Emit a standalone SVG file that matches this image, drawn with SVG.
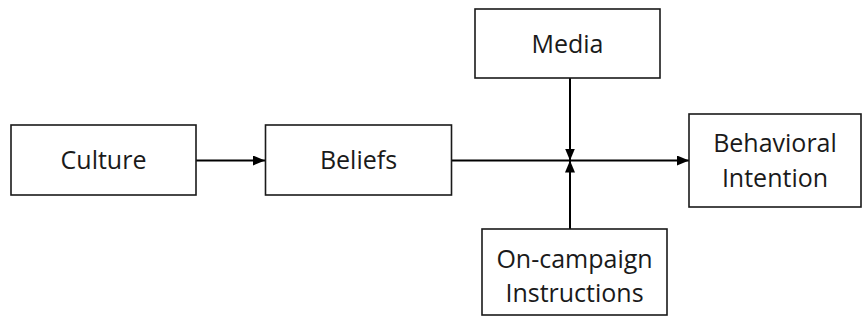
<svg xmlns="http://www.w3.org/2000/svg" width="862" height="325" viewBox="0 0 862 325">
<style>
.box{fill:#fff;stroke:#1a1a1a;stroke-width:1.6}
.lbl{font-family:"Open Sans","Liberation Sans",sans-serif;font-size:25px;fill:#1a1a1a;text-anchor:middle}
.edge{stroke:#000;stroke-width:2;fill:none;marker-end:url(#ah)}
</style>
<defs>
<marker id="ah" viewBox="0 0 12 10" refX="12" refY="5" markerWidth="12" markerHeight="10" markerUnits="userSpaceOnUse" orient="auto">
<path d="M0,0 L12,5 L0,10 Z" fill="#000"/>
</marker>
</defs>
<g id="connectors">
<line class="edge" x1="196" y1="160.5" x2="265" y2="160.5"/>
<line class="edge" x1="452" y1="160.5" x2="689" y2="160.5"/>
<line class="edge" x1="570" y1="78" x2="570" y2="160.5"/>
<line class="edge" x1="570" y1="229" x2="570" y2="160.5"/>
</g>
<g id="culture">
<rect class="box" x="11" y="125" width="185" height="70"/>
<text class="lbl" x="103.5" y="169">Culture</text>
</g>
<g id="beliefs">
<rect class="box" x="265.5" y="125" width="186" height="70"/>
<text class="lbl" x="358.5" y="169">Beliefs</text>
</g>
<g id="media">
<rect class="box" x="475" y="9" width="185" height="69"/>
<text class="lbl" x="567.5" y="53">Media</text>
</g>
<g id="behavioral">
<rect class="box" x="689" y="114" width="172" height="93"/>
<text class="lbl" x="775" y="152">Behavioral</text>
<text class="lbl" x="775" y="187">Intention</text>
</g>
<g id="oncampaign">
<rect class="box" x="482" y="229" width="185" height="86"/>
<text class="lbl" x="574.5" y="268">On-campaign</text>
<text class="lbl" x="574.5" y="302">Instructions</text>
</g>
</svg>
